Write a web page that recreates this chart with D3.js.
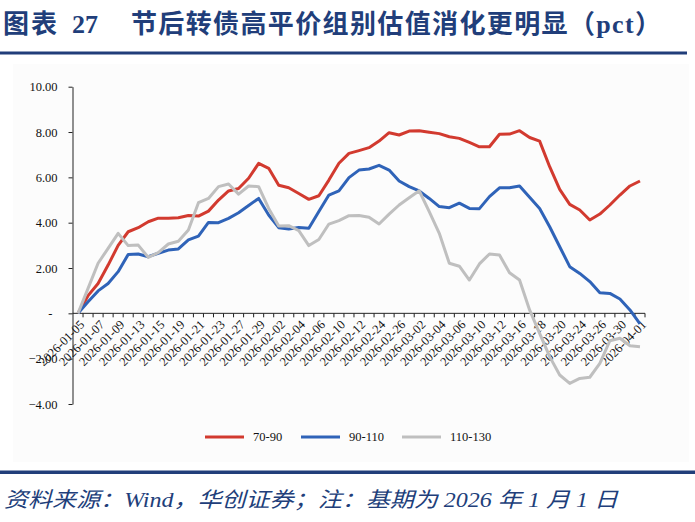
<!DOCTYPE html>
<html>
<head>
<meta charset="utf-8">
<script src="https://cdn.jsdelivr.net/npm/d3@7/dist/d3.min.js"></script>
<style>
  html, body { margin: 0; padding: 0; background: #fff; }
  svg { display: block; }
</style>
</head>
<body>
<svg id="chart" width="695" height="522"></svg>
<script>
;'use strict';

var dates = [
    '2026-01-05', '2026-01-06', '2026-01-07', '2026-01-08', '2026-01-09'
  , '2026-01-12', '2026-01-13', '2026-01-14', '2026-01-15', '2026-01-16'
  , '2026-01-19', '2026-01-20', '2026-01-21', '2026-01-22', '2026-01-23'
  , '2026-01-26', '2026-01-27', '2026-01-28', '2026-01-29', '2026-01-30'
  , '2026-02-02', '2026-02-03', '2026-02-04', '2026-02-05', '2026-02-06'
  , '2026-02-09', '2026-02-10', '2026-02-11', '2026-02-12', '2026-02-13'
  , '2026-02-24', '2026-02-25', '2026-02-26', '2026-02-27'
  , '2026-03-02', '2026-03-03', '2026-03-04', '2026-03-05', '2026-03-06'
  , '2026-03-09', '2026-03-10', '2026-03-11', '2026-03-12', '2026-03-13'
  , '2026-03-16', '2026-03-17', '2026-03-18', '2026-03-19', '2026-03-20'
  , '2026-03-23', '2026-03-24', '2026-03-25', '2026-03-26', '2026-03-27'
  , '2026-03-30', '2026-03-31', '2026-04-01'
]

var s70_90 = [
    0.00, 0.78, 1.32, 2.13, 3.00, 3.60, 3.78, 4.04, 4.20, 4.20
  , 4.22, 4.32, 4.29, 4.51, 5.00, 5.40, 5.51, 5.96, 6.62, 6.40
  , 5.65, 5.54, 5.29, 5.03, 5.19, 5.88, 6.62, 7.06, 7.18, 7.31
  , 7.60, 7.97, 7.87, 8.04, 8.06, 7.99, 7.93, 7.79, 7.72, 7.54
  , 7.35, 7.35, 7.90, 7.91, 8.06, 7.76, 7.60, 6.47, 5.47, 4.81
  , 4.56, 4.12, 4.38, 4.78, 5.22, 5.62, 5.84
]

var s90_110 = [
    0.00, 0.51, 0.99, 1.32, 1.84, 2.60, 2.62, 2.50, 2.65, 2.79
  , 2.84, 3.24, 3.41, 4.01, 4.00, 4.19, 4.44, 4.76, 5.07, 4.34
  , 3.78, 3.72, 3.79, 3.75, 4.49, 5.22, 5.40, 5.99, 6.32, 6.37
  , 6.53, 6.32, 5.84, 5.59, 5.40, 5.07, 4.71, 4.66, 4.86, 4.63
  , 4.62, 5.15, 5.54, 5.54, 5.62, 5.12, 4.63, 3.82, 2.94, 2.06
  , 1.76, 1.40, 0.91, 0.88, 0.63, 0.15, -0.47
]

var s110_130 = [
    0.00, 1.10, 2.21, 2.87, 3.53, 2.99, 3.01, 2.47, 2.68, 3.06
  , 3.18, 3.68, 4.88, 5.07, 5.59, 5.71, 5.26, 5.62, 5.59, 4.63
  , 3.85, 3.87, 3.65, 2.99, 3.26, 3.94, 4.09, 4.31, 4.32, 4.24
  , 3.94, 4.38, 4.78, 5.10, 5.41, 4.49, 3.53, 2.21, 2.08, 1.47
  , 2.18, 2.62, 2.57, 1.79, 1.47, 0.15, -0.88, -1.91, -2.72, -3.09
  , -2.87, -2.82, -2.21, -1.21, -1.10, -1.43, -1.47
]

var seriesNames = ['70-90', '90-110', '110-130']
var seriesColors = ['#d23a2f', '#2f63b8', '#bfbfbf']
var yTicks = [-4, -2, 0, 2, 4, 6, 8, 10]

var navy = '#213e7a'
  , serif = '"Liberation Serif", "Times New Roman", "Noto Sans CJK SC", serif'
  , cjk = '"Liberation Serif", "Noto Sans CJK SC", serif'

var svg = d3.select('#chart')

svg.append('rect').attr('width', 695).attr('height', 522).attr('fill', '#fff')
// faint plot backdrop like the original export
svg.append('rect')
  .attr('x', 13).attr('y', 64).attr('width', 676).attr('height', 398)
  .attr('fill', '#fcfcfc')

// title + rules
var title = svg.append('text')
  .attr('y', 33)
  .attr('fill', navy)
  .style('font-family', cjk)
  .style('font-weight', 'bold')
  .style('font-size', '26px')
title.append('tspan').attr('x', 3).attr('textLength', 54).attr('lengthAdjust', 'spacing').text('图表')
title.append('tspan').attr('x', 72).text('27')
title.append('tspan').attr('x', 131).attr('textLength', 530).attr('lengthAdjust', 'spacing')
  .text('节后转债高平价组别估值消化更明显（pct）')

svg.append('rect').attr('x', 0).attr('y', 51.5).attr('width', 687).attr('height', 3).attr('fill', navy)
svg.append('rect').attr('x', 0).attr('y', 470.5).attr('width', 695).attr('height', 3.5).attr('fill', navy)

svg.append('text')
  .attr('x', 4).attr('y', 507)
  .attr('textLength', 614).attr('lengthAdjust', 'spacingAndGlyphs')
  .attr('fill', navy)
  .style('font-family', cjk)
  .style('font-style', 'italic')
  .style('font-size', '21px')
  .text('资料来源：Wind，华创证券；注：基期为 2026 年 1 月 1 日')

// scales
var x = d3.scaleBand().domain(dates).range([73, 645])
var y = d3.scaleLinear().domain([-4, 10]).range([404, 86.7])
var cx = function(d) { return x(d) + x.bandwidth() / 2 }
var y0 = y(0)

var fmt = function(v) { return v === 0 ? '-' : d3.format('.2f')(v) }

var yAxis = svg.append('g')
  .attr('transform', 'translate(72.5,0)')
  .call(d3.axisLeft(y).tickValues(yTicks).tickSize(4).tickSizeOuter(0).tickPadding(11).tickFormat(fmt))
yAxis.selectAll('path, line').attr('stroke', '#222')
yAxis.selectAll('text')
  .attr('fill', '#111')
  .style('font-family', serif)
  .style('font-size', '12.5px')
  .filter(function(d) { return d === 0 }).attr('x', -20)

// x axis on the zero line, ticks on band edges
var xAxis = svg.append('g')
  .attr('transform', 'translate(0,' + y0 + ')')
xAxis.append('line')
  .attr('x1', 72.5).attr('x2', x.range()[1])
  .attr('stroke', '#222')
xAxis.selectAll('line.tk')
  .data(dates.map(function(d) { return x(d) + x.bandwidth() }))
  .enter().append('line')
  .attr('class', 'tk')
  .attr('x1', function(d) { return d }).attr('x2', function(d) { return d })
  .attr('y1', 0).attr('y2', 4)
  .attr('stroke', '#222')

xAxis.selectAll('text.lb')
  .data(dates.filter(function(d, i) { return i % 2 === 0 }))
  .enter().append('text')
  .attr('class', 'lb')
  .attr('transform', function(d) { return 'translate(' + [cx(d) + 4, 9] + ') rotate(-45)' })
  .attr('dy', '0.35em')
  .attr('text-anchor', 'end')
  .attr('fill', '#111')
  .style('font-family', serif)
  .style('font-size', '12.5px')
  .text(function(d) { return d })

// lines
var line = d3.line()
  .x(function(d) { return cx(d[0]) })
  .y(function(d) { return y(d[1]) })

var allSeries = [s70_90, s90_110, s110_130]
allSeries.forEach(function(s, k) {
  svg.append('path')
    .datum(zip(dates, s))
    .attr('d', line)
    .attr('fill', 'none')
    .attr('stroke', seriesColors[k])
    .attr('stroke-width', 3)
    .attr('stroke-linejoin', 'round')
})

function zip(a, b) {
  return a.map(function(a, i) { return [a, b[i]] })
}

// legend
var legendX = [205, 301, 402]
var legend = svg.append('g').attr('transform', 'translate(0,437)')
seriesNames.forEach(function(name, k) {
  legend.append('line')
    .attr('x1', legendX[k]).attr('x2', legendX[k] + 39)
    .attr('stroke', seriesColors[k])
    .attr('stroke-width', 3)
  legend.append('text')
    .attr('x', legendX[k] + 48)
    .attr('dy', '0.35em')
    .attr('fill', '#111')
    .style('font-family', serif)
    .style('font-size', '12.5px')
    .text(name)
})
</script>
</body>
</html>
